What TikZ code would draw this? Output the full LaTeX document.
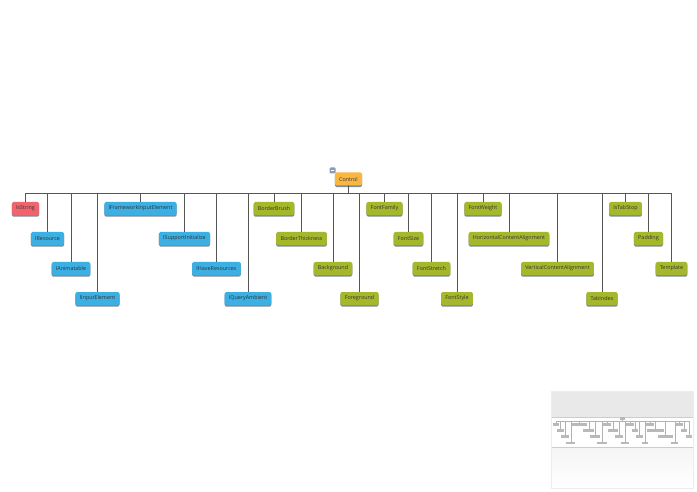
\documentclass[tikz,border=0pt]{standalone}
\usepackage{fontspec}
\setmainfont{Open Sans}
\usetikzlibrary{shadows}

\definecolor{redbox}{HTML}{F0646E}
\definecolor{bluebox}{HTML}{3CAFE3}
\definecolor{greenbox}{HTML}{A5B82C}
\definecolor{orangebox}{HTML}{F9B640}
\definecolor{shadowgray}{HTML}{7E8C9A}
\definecolor{togglegray}{HTML}{8B9BB0}
\definecolor{wire}{HTML}{555555}

\tikzset{
  member/.style={rounded corners=1.5pt, minimum height=13pt, inner xsep=4.3pt,
    inner ysep=0pt, text=black!80, font=\fontsize{5.4}{6}\selectfont,
    general shadow={fill=shadowgray, shadow yshift=-1.6pt}},
  minimember/.style={fill=gray!55, minimum height=13pt, inner xsep=4.3pt,
    inner ysep=0pt, font=\fontsize{5.4}{6}\selectfont},
  link/.style={draw=wire, line width=0.8pt},
  minilink/.style={draw=gray!60, line width=0.4pt}
}

\begin{document}
\begin{tikzpicture}[x=1pt,y=-1pt]
    \useasboundingbox (0,0) rectangle (697,492);

    % root
    \node[member, fill=orangebox] (control) at (348.5,179) {Control};
    \node[fill=togglegray, minimum size=6pt, inner sep=0pt, rounded corners=1pt] (toggle) at (332.5,170.5) {};
    \draw[white, line width=0.7pt] ([xshift=1.3pt]toggle.west) -- ([xshift=-1.3pt]toggle.east);

    % members, four rows in turn
    \foreach \name/\label/\x/\col [count=\i from 0] in {
        isstring/IsString/25.5/redbox,
        iresource/IResource/47.5/bluebox,
        ianimatable/IAnimatable/71/bluebox,
        iinputelement/IInputElement/97.5/bluebox,
        iframeworkinputelement/IFrameworkInputElement/140.5/bluebox,
        isupportinitialize/ISupportInitialize/184.5/bluebox,
        ihaveresources/IHaveResources/216.5/bluebox,
        iqueryambient/IQueryAmbient/248/bluebox,
        borderbrush/BorderBrush/274/greenbox,
        borderthickness/BorderThickness/301.5/greenbox,
        background/Background/333/greenbox,
        foreground/Foreground/359.5/greenbox,
        fontfamily/FontFamily/384.5/greenbox,
        fontsize/FontSize/408.5/greenbox,
        fontstretch/FontStretch/431.5/greenbox,
        fontstyle/FontStyle/457/greenbox,
        fontweight/FontWeight/483/greenbox,
        horizontalcontentalignment/HorizontalContentAlignment/509/greenbox,
        verticalcontentalignment/VerticalContentAlignment/557.5/greenbox,
        tabindex/TabIndex/602/greenbox,
        istabstop/IsTabStop/625.5/greenbox,
        padding/Padding/648.5/greenbox,
        template/Template/671.5/greenbox} {
        \pgfmathtruncatemacro\row{mod(\i,4)}
        \node[member, fill=\col] (\name) at (\x,208.5+30*\row) {\label};
        \draw[link] (control.south) -- ++(0,7.5) -| (\name.north);
    }

    % overview panel
    \fill[gray!3] (551,391) rectangle (693,488);
    \fill[gray!17] (551,391) rectangle (693,417);
    \shade[top color=gray!8, bottom color=white] (551,447) rectangle (693,488);
    \draw[gray!40, fill=white] (551,417) rectangle (693,447);
    \draw[gray!15] (551,391) rectangle (693,488);

    \begin{scope}[shift={(550.7,381.4)}, scale=0.206, transform shape]
        \node[minimember] (m-control) at (348.5,179) {\phantom{Control}};
        \foreach \name/\label/\x [count=\i from 0] in {
            isstring/IsString/25.5, iresource/IResource/47.5,
            ianimatable/IAnimatable/71, iinputelement/IInputElement/97.5,
            iframeworkinputelement/IFrameworkInputElement/140.5,
            isupportinitialize/ISupportInitialize/184.5,
            ihaveresources/IHaveResources/216.5, iqueryambient/IQueryAmbient/248,
            borderbrush/BorderBrush/274, borderthickness/BorderThickness/301.5,
            background/Background/333, foreground/Foreground/359.5,
            fontfamily/FontFamily/384.5, fontsize/FontSize/408.5,
            fontstretch/FontStretch/431.5, fontstyle/FontStyle/457,
            fontweight/FontWeight/483,
            horizontalcontentalignment/HorizontalContentAlignment/509,
            verticalcontentalignment/VerticalContentAlignment/557.5,
            tabindex/TabIndex/602, istabstop/IsTabStop/625.5,
            padding/Padding/648.5, template/Template/671.5} {
            \pgfmathtruncatemacro\row{mod(\i,4)}
            \node[minimember] (m-\name) at (\x,208.5+30*\row) {\phantom{\label}};
            \draw[minilink] (m-control.south) -- ++(0,7.5) -| (m-\name.north);
        }
    \end{scope}
\end{tikzpicture}
\end{document}
